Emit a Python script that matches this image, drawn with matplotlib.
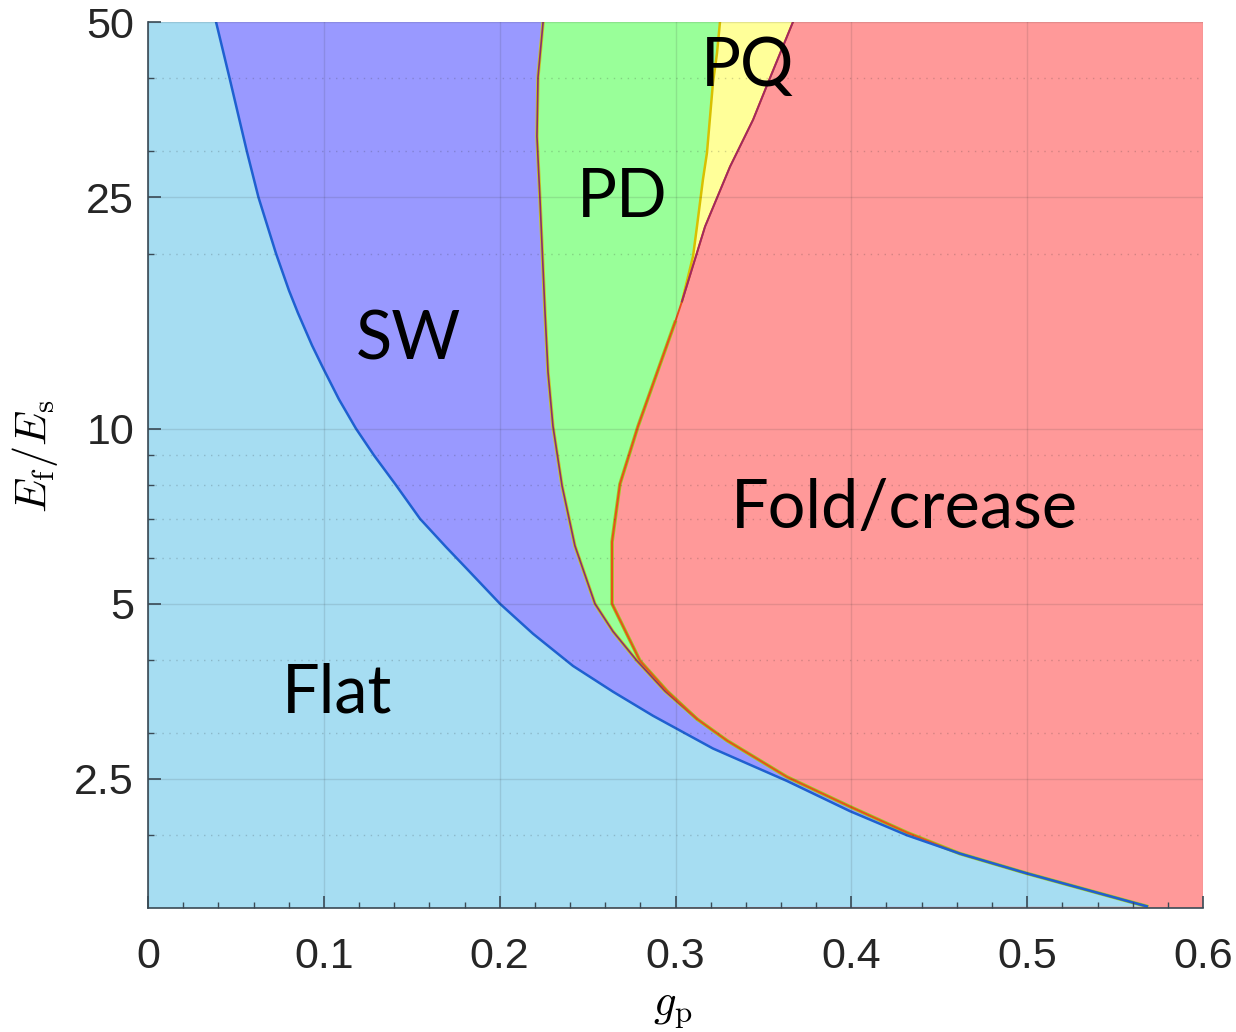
import numpy as np
import matplotlib
matplotlib.use('Agg')
from matplotlib import pyplot as plt
from matplotlib.ticker import FixedLocator, NullFormatter

plt.rcParams['mathtext.fontset'] = 'cm'
plt.rcParams['font.family'] = ['Liberation Sans', 'DejaVu Sans']

# phase boundaries, (g_p, Ef/Es)
flat_g = [0.0387, 0.0466, 0.0563, 0.0628, 0.0728, 0.0802, 0.0853, 0.0933, 0.0998,
          0.1086, 0.1183, 0.1285, 0.141, 0.1547, 0.1695, 0.1814, 0.2002,
          0.219, 0.2417, 0.2645, 0.2872, 0.3213, 0.3634, 0.3993, 0.4317, 0.4618,
          0.4999, 0.568]
flat_E = [50, 39.8, 29.9, 25.0, 20.0, 17.27, 15.8, 13.9, 12.67,
          11.23, 10.0, 9.0, 8.0, 7.0, 6.26, 5.74, 5.0,
          4.44, 3.91, 3.53, 3.21, 2.82, 2.48, 2.20, 2.0, 1.86,
          1.72, 1.51]

swpd_g = [0.2247, 0.2218, 0.2212, 0.2229, 0.2241, 0.2258, 0.2275, 0.2303, 0.2355,
          0.2428, 0.2542, 0.2645, 0.2781, 0.294, 0.3122]
swpd_E = [50, 40.2, 31.8, 24.9, 20.6, 15.8, 12.5, 10.1, 7.97,
          6.29, 5.0, 4.48, 3.99, 3.54, 3.17]

pq_g = [0.3253, 0.3236, 0.3213, 0.3179, 0.3156, 0.3122, 0.310, 0.3037]
pq_E = [50, 44.2, 39.3, 29.8, 26.8, 22.25, 19.8, 16.55]

fold_g = [0.3668, 0.3526, 0.3441, 0.331, 0.3168, 0.3037, 0.2997, 0.2787, 0.2684,
          0.2639, 0.2639, 0.2798, 0.2952, 0.3122, 0.3293, 0.3634, 0.3993, 0.432,
          0.4618, 0.4999, 0.568]
fold_E = [50, 39.3, 33.95, 28.2, 22.25, 16.55, 15.23, 10.1, 8.03,
          6.39, 5.0, 3.99, 3.54, 3.17, 2.91, 2.52, 2.24, 2.02,
          1.86, 1.72, 1.51]

labels = ['Flat', 'SW', 'PD', 'PQ', 'Fold/crease']
label_g = [0.1075, 0.148, 0.2696, 0.341, 0.430]
label_E = [3.50, 14.2, 24.9, 41.8, 7.27]

yticks = [2.5, 5, 10, 25, 50]
yminor = [2, 3, 4, 6, 7, 8, 9, 20, 30, 40]
xlim = (0, 0.6)
ylim = (1.5, 50)

c_flat = '#a6ddf2'
c_sw = '#9999ff'
c_pd = '#99ff99'
c_pq = '#ffff99'
c_fold = '#ff9999'

fig = plt.figure(figsize=(12.36, 10.32), dpi=100)
ax = fig.add_axes([148/1236, 1-908/1032, (1203-148)/1236, (908-22)/1032])
ax.set_yscale('log')
ax.set_xlim(*xlim)
ax.set_ylim(*ylim)
ax.set_facecolor(c_fold)

fg = np.array(fold_g); fE = np.array(fold_E)
left_g = [0, 0]
left_E = [ylim[0], ylim[1]]

def region(bg, bE):
    # polygon bounded by the left axis and a boundary running top -> bottom
    return list(bg) + left_g, list(bE) + left_E

# layered painting, right to left
g, E = region(fg, fE)
ax.fill(g, E, color=c_pq, lw=0, zorder=1)
low = fE < pq_E[-1]
g, E = region(np.r_[pq_g, fg[low]], np.r_[pq_E, fE[low]])
ax.fill(g, E, color=c_pd, lw=0, zorder=1.1)
low = fE < swpd_E[-1]
g, E = region(np.r_[swpd_g, fg[low]], np.r_[swpd_E, fE[low]])
ax.fill(g, E, color=c_sw, lw=0, zorder=1.2)
g, E = region(flat_g, flat_E)
ax.fill(g, E, color=c_flat, lw=0, zorder=1.3)

# boundary lines
ax.plot(swpd_g, swpd_E, color='#c8c820', lw=2.4, zorder=2)
ax.plot(swpd_g, swpd_E, color='#8a2f6f', lw=1.2, zorder=2.1)
ax.plot(pq_g, pq_E, color='#d8c000', lw=1.8, zorder=2)
top = fE >= pq_E[-1]
ax.plot(fg[~top], fE[~top], color='#9ad020', lw=2.6, zorder=2)
ax.plot(fg, fE, color='#e8501a', lw=1.4, zorder=2.1)
ax.plot(fg[top], fE[top], color='#a02a60', lw=1.4, zorder=2.2)
ax.plot(flat_g, flat_E, color='#1f60d0', lw=1.8, zorder=2.3)

ax.set_yticks(yticks)
ax.set_yticklabels([('%g' % v) for v in yticks])
ax.yaxis.set_minor_locator(FixedLocator(yminor))
ax.yaxis.set_minor_formatter(NullFormatter())
ax.set_xticks(np.arange(0, 0.61, 0.1))
ax.set_xticklabels(['0', '0.1', '0.2', '0.3', '0.4', '0.5', '0.6'])
ax.xaxis.set_minor_locator(FixedLocator(np.arange(0, 0.601, 0.02)))

ax.grid(True, which='major', color='#262626', alpha=0.12, lw=1.0)
ax.grid(True, which='minor', axis='y', color='#262626', alpha=0.2, lw=1.0, ls=(0, (1, 4)))
ax.set_axisbelow(False)

for s in ['top', 'right']:
    ax.spines[s].set_visible(False)
for s in ['left', 'bottom']:
    ax.spines[s].set_color('#3a4a55')
    ax.spines[s].set_linewidth(1.2)
ax.tick_params(which='both', direction='in', colors='#3a4a55', labelcolor='#262626',
               labelsize=31, top=False, right=False)
ax.tick_params(which='major', length=9, width=1.2)
ax.tick_params(which='minor', length=4, width=1.0)
ax.tick_params(axis='x', pad=21)
ax.tick_params(axis='y', pad=10)

ax.set_xlabel(r'$g_\mathrm{p}$', fontsize=32)
ax.set_ylabel(r'$E_\mathrm{f}/E_\mathrm{s}$', fontsize=32)
ax.xaxis.set_label_coords(0.497, -0.093)
ax.yaxis.set_label_coords(-0.083, 0.51)

for t, x, y in zip(labels, label_g, label_E):
    ax.text(x, y, t, fontsize=48, family='Lato', ha='center', va='center', zorder=5)

fig.savefig('out.png', dpi=100)
